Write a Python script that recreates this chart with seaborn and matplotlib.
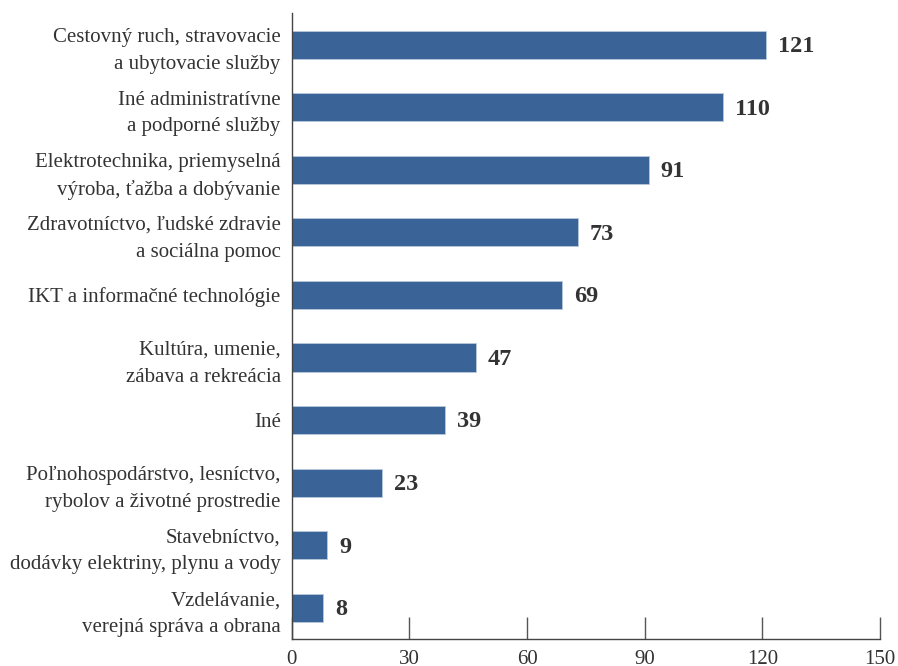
import matplotlib
matplotlib.use('Agg')
import matplotlib.pyplot as plt
import seaborn as sns
import pandas as pd

CATEGORIES = [
    'Cestovný ruch, stravovacie\na ubytovacie služby',
    'Iné administratívne\na podporné služby',
    'Elektrotechnika, priemyselná\nvýroba, ťažba a dobývanie',
    'Zdravotníctvo, ľudské zdravie\na sociálna pomoc',
    'IKT a informačné technológie',
    'Kultúra, umenie,\nzábava a rekreácia',
    'Iné',
    'Poľnohospodárstvo, lesníctvo,\nrybolov a životné prostredie',
    'Stavebníctvo,\ndodávky elektriny, plynu a vody',
    'Vzdelávanie,\nverejná správa a obrana',
]
COUNTS = [121, 110, 91, 73, 69, 47, 39, 23, 9, 8]
X_TICKS = [0, 30, 60, 90, 120, 150]

BAR_COLOR = '#3a6497'
TEXT_COLOR = '#333333'

sns.set_theme(style='white')
plt.rcParams['font.family'] = ['Liberation Serif', 'DejaVu Serif']

df = pd.DataFrame({'sector': CATEGORIES, 'count': COUNTS})

fig = plt.figure(figsize=(8.98, 6.66), dpi=100)
ax = fig.add_axes([0.325, 0.0405, 0.655, 0.9395])

sns.barplot(data=df, y='sector', x='count', orient='h', color=BAR_COLOR,
            saturation=1, width=0.45, edgecolor='#b8c8dc', linewidth=0.6, ax=ax)

# value labels at the bar ends
for i, v in enumerate(COUNTS):
    ax.text(v + 3, i + 0.03, str(v), va='center', ha='left', fontsize=17.5,
            fontweight='bold', color=TEXT_COLOR)

ax.set_xlim(0, 150)
ax.set_ylim(9.5, -0.5)
ax.set_xticks(X_TICKS)
ax.set_xlabel('')
ax.set_ylabel('')

ax.tick_params(axis='x', direction='in', length=16, width=1, color='#555555',
               labelsize=15, labelcolor=TEXT_COLOR, pad=8, bottom=True)
ax.tick_params(axis='y', length=0, labelsize=15, labelcolor=TEXT_COLOR, pad=8)
for lab in ax.get_yticklabels():
    lab.set_linespacing(1.55)

for side in ['top', 'right']:
    ax.spines[side].set_visible(False)
for side in ['left', 'bottom']:
    ax.spines[side].set_color('#444444')
    ax.spines[side].set_linewidth(1)

fig.savefig('out.png', dpi=100)
